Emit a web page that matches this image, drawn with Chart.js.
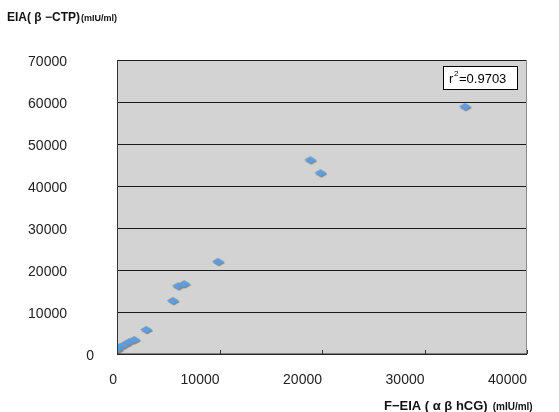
<!DOCTYPE html>
<html lang="ja">
<head>
<meta charset="UTF-8">
<title>EIA vs F-EIA</title>
<script src="https://cdn.jsdelivr.net/npm/chart.js@4.4.0/dist/chart.umd.min.js"></script>
<style>
  body { margin: 0; background: #fff; }
  #wrap { width: 559px; height: 412px; }
</style>
</head>
<body>
<div id="wrap"><canvas id="scatter" width="559" height="412"></canvas></div>
<script>
// 読み取った値
var fEia = [50, 340, 740, 1230, 1720, 2900, 5500, 6000, 6600, 9900, 18900, 19900, 34000];
var eia  = [700, 1400, 1900, 2600, 3100, 5500, 12400, 15900, 16400, 21700, 45900, 42800, 58600];
var yTicks = [0, 10000, 20000, 30000, 40000, 50000, 60000, 70000];
var xTicks = [0, 10000, 20000, 30000, 40000];
var r2Text = "0.9703";

var pts = fEia.map(function (v, i) { return { x: v, y: eia[i] }; });

// 影付きのひし形マーカー
function diamond() {
  var c = document.createElement('canvas');
  c.width = 16; c.height = 12;
  var g = c.getContext('2d');
  function shape(dx, dy, col) {
    g.beginPath();
    g.moveTo(1.5 + dx, 4.5 + dy);
    g.lineTo(7.5 + dx, 1 + dy);
    g.lineTo(13.5 + dx, 4.5 + dy);
    g.lineTo(7.5 + dx, 8 + dy);
    g.closePath();
    g.fillStyle = col;
    g.fill();
  }
  shape(1, 1.5, '#878787');
  shape(0, 0, '#5d9ede');
  return c;
}

var FONT = '"Liberation Sans", Arial, sans-serif';

var decor = {
  id: 'decor',
  beforeDraw: function (chart) {
    var a = chart.chartArea, ctx = chart.ctx;
    ctx.save();
    ctx.fillStyle = '#d3d3d3';
    ctx.fillRect(a.left, a.top, a.right - a.left, a.bottom - a.top);
    ctx.restore();
  },
  afterDatasetsDraw: function (chart) {
    var a = chart.chartArea, ctx = chart.ctx;
    var xs = chart.scales.x, ys = chart.scales.y;
    ctx.save();
    // 枠
    ctx.strokeStyle = '#8a8a8a';
    ctx.lineWidth = 1;
    ctx.beginPath();
    ctx.moveTo(a.right - 0.5, a.top);
    ctx.lineTo(a.right - 0.5, a.bottom);
    ctx.stroke();
    ctx.strokeStyle = '#333';
    ctx.beginPath();
    ctx.moveTo(a.left + 0.5, a.top);
    ctx.lineTo(a.left + 0.5, a.bottom);
    ctx.lineTo(a.right, a.bottom);
    ctx.stroke();
    // x 目盛り (内向き)
    xTicks.forEach(function (t) {
      var px = Math.round(xs.getPixelForValue(t)) + 0.5;
      ctx.beginPath();
      ctx.moveTo(px, a.bottom);
      ctx.lineTo(px, a.bottom - 4);
      ctx.stroke();
    });
    // y 目盛りラベル
    ctx.fillStyle = '#222';
    ctx.font = '14px ' + FONT;
    ctx.textBaseline = 'middle';
    ctx.textAlign = 'right';
    yTicks.forEach(function (t) {
      var py = ys.getPixelForValue(t) + 2;
      ctx.fillText(String(t), t === 0 ? 94 : 67, py);
    });
    // r² ボックス
    ctx.fillStyle = '#fff';
    ctx.fillRect(443.5, 66.5, 74, 23);
    ctx.strokeStyle = '#000';
    ctx.strokeRect(443.5, 66.5, 74, 23);
    ctx.fillStyle = '#000';
    ctx.textAlign = 'left';
    ctx.font = '13px ' + FONT;
    ctx.fillText('r', 449, 79);
    ctx.font = '8px ' + FONT;
    ctx.fillText('2', 454, 74);
    ctx.font = '13px ' + FONT;
    ctx.fillText('=' + r2Text, 459, 79);
    // 軸タイトル
    ctx.fillStyle = '#111';
    ctx.font = 'bold 12px ' + FONT;
    ctx.fillText('EIA( β −CTP)', 7, 18);
    var w = ctx.measureText('EIA( β −CTP)').width;
    ctx.font = 'bold 9px ' + FONT;
    ctx.fillText('(mIU/ml)', 8 + w, 19);
    ctx.font = 'bold 13px ' + FONT;
    ctx.fillText('F−EIA ( α β hCG)', 384, 406);
    w = ctx.measureText('F−EIA ( α β hCG)').width;
    ctx.font = 'bold 10px ' + FONT;
    ctx.fillText('(mIU/ml)', 389 + w, 407);
    ctx.restore();
  }
};

new Chart(document.getElementById('scatter'), {
  type: 'scatter',
  data: {
    datasets: [{
      data: pts,
      pointStyle: diamond(),
      pointRadius: 7,
      pointHoverRadius: 7
    }]
  },
  options: {
    responsive: false,
    animation: false,
    layout: { padding: { top: 60, right: 32, left: 0, bottom: 0 } },
    plugins: { legend: { display: false }, tooltip: { enabled: false } },
    scales: {
      x: {
        type: 'linear',
        min: 0, max: 40000,
        afterBuildTicks: function (s) { s.ticks = xTicks.map(function (v) { return { value: v }; }); },
        afterFit: function (s) { s.height = 58; },
        grid: { display: false },
        border: { display: false },
        ticks: {
          color: '#222',
          font: { family: FONT, size: 14 },
          align: 'end',
          padding: 10,
          maxRotation: 0,
          callback: function (v) { return String(v); }
        }
      },
      y: {
        type: 'linear',
        min: 0, max: 70000,
        afterBuildTicks: function (s) { s.ticks = yTicks.map(function (v) { return { value: v }; }); },
        afterFit: function (s) { s.width = 117; },
        grid: { color: '#1a1a1a', lineWidth: 1, drawTicks: false },
        border: { display: false },
        ticks: { display: false }
      }
    }
  },
  plugins: [decor]
});
</script>
</body>
</html>
